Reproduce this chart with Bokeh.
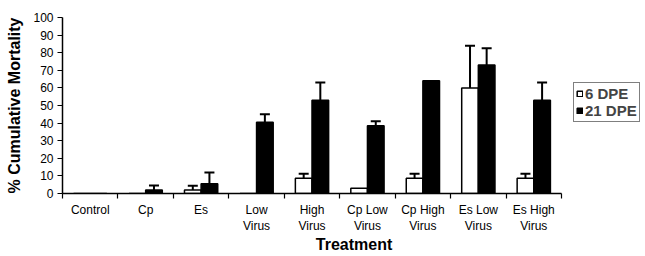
from bokeh.plotting import figure
from bokeh.models import (ColumnDataSource, FixedTicker, Range1d, Whisker, TeeHead,
                          Legend, LegendItem)
from bokeh.embed import file_html
from bokeh.resources import INLINE

categories = ["Control", "Cp", "Es", "Low Virus", "High Virus", "Cp Low Virus",
              "Cp High Virus", "Es Low Virus", "Es High Virus"]
tick_labels = ["Control", "Cp", "Es", "Low\nVirus", "High\nVirus", "Cp Low\nVirus",
               "Cp High\nVirus", "Es Low\nVirus", "Es High\nVirus"]
dpe6 = [0, 0, 2, 0, 8.7, 3, 8.7, 60, 8.7]
dpe6_err = [0, 0, 2.4, 0, 2.5, 0, 2.5, 24, 2.5]
dpe21 = [0, 2, 5.5, 40.5, 53, 38.5, 64, 73, 53]
dpe21_err = [0, 2.5, 6.5, 4.5, 10, 2.5, 0, 9.5, 10]
y_ticks = list(range(0, 101, 10))

FONT = "Liberation Sans"
n = len(categories)
centers = [i + 0.5 for i in range(n)]
bw = 0.3

W, H = 645, 256
LEFT, TOP, BOTTOM = 62, 17, 63
AXIS_PX = 499                      # pixel length of the category axis
x_end = n * (W - LEFT) / AXIS_PX   # frame runs to the right edge so the legend fits

p = figure(width=W, height=H, output_backend="svg", toolbar_location=None,
           x_range=Range1d(0, x_end), y_range=Range1d(0, 100),
           min_border_left=LEFT, min_border_right=0, min_border_top=TOP,
           min_border_bottom=BOTTOM)
p.outline_line_color = None
p.xgrid.grid_line_color = None
p.ygrid.grid_line_color = None
p.background_fill_color = "white"
p.border_fill_color = "white"

src6 = ColumnDataSource(dict(x=[c - bw / 2 for c in centers], top=dpe6,
                             up=[v + e for v, e in zip(dpe6, dpe6_err)], err=dpe6_err))
src21 = ColumnDataSource(dict(x=[c + bw / 2 for c in centers], top=dpe21,
                              up=[v + e for v, e in zip(dpe21, dpe21_err)], err=dpe21_err))

r6 = p.vbar(x="x", top="top", width=bw, source=src6, fill_color="white",
            line_color="black", line_width=1.5)
r21 = p.vbar(x="x", top="top", width=bw, source=src21, fill_color="black",
             line_color="black", line_width=1.5)

for s in (src6, src21):
    d = s.data
    idx = [i for i, e in enumerate(d["err"]) if e > 0]
    es = ColumnDataSource(dict(x=[d["x"][i] for i in idx], lo=[d["top"][i] for i in idx],
                               up=[d["up"][i] for i in idx]))
    w = Whisker(base="x", lower="lo", upper="up", source=es, line_color="black",
                line_width=2, lower_head=None,
                upper_head=TeeHead(size=10, line_color="black", line_width=2))
    p.add_layout(w)

# y axis
ya = p.yaxis[0]
ya.ticker = FixedTicker(ticks=y_ticks)
ya.minor_tick_line_color = None
ya.major_tick_in = 0
ya.major_tick_out = 5
ya.axis_line_width = 1.5
ya.major_tick_line_width = 1.2
ya.major_label_text_font = FONT
ya.major_label_text_font_size = "12px"
ya.major_label_text_color = "black"
ya.major_label_standoff = 4
ya.axis_label = "% Cumulative Mortality"
ya.axis_label_text_font = FONT
ya.axis_label_text_font_style = "bold"
ya.axis_label_text_font_size = "16px"
ya.axis_label_text_color = "black"
ya.axis_label_standoff = 7

# x axis
xa = p.xaxis[0]
xa.bounds = (0, n)
xa.ticker = FixedTicker(ticks=centers, minor_ticks=list(range(n + 1)))
xa.major_label_overrides = {c: t for c, t in zip(centers, tick_labels)}
xa.major_tick_line_color = None
xa.major_tick_in = 0
xa.major_tick_out = 5
xa.minor_tick_in = 0
xa.minor_tick_out = 5
xa.minor_tick_line_color = "black"
xa.minor_tick_line_width = 1.2
xa.axis_line_width = 1.5
xa.major_label_text_font = FONT
xa.major_label_text_font_size = "12px"
xa.major_label_text_color = "black"
xa.major_label_standoff = 4
xa.axis_label = "Treatment"
xa.axis_label_text_font = FONT
xa.axis_label_text_font_style = "bold"
xa.axis_label_text_font_size = "16px"
xa.axis_label_text_color = "black"
xa.axis_label_standoff = 0

legend = Legend(items=[LegendItem(label="6 DPE", renderers=[r6]),
                       LegendItem(label="21 DPE", renderers=[r21])],
                location=(511, 71), orientation="vertical")
legend.label_text_font = FONT
legend.label_text_font_style = "bold"
legend.label_text_font_size = "15px"
legend.label_height = 13
legend.glyph_height = 7
legend.glyph_width = 7
legend.label_standoff = 2
legend.spacing = 0
legend.padding = 2
legend.margin = 0
legend.border_line_color = "black"
legend.border_line_width = 1
legend.background_fill_alpha = 1
p.add_layout(legend, "center")

open("out.html", "w").write(file_html(p, INLINE))
